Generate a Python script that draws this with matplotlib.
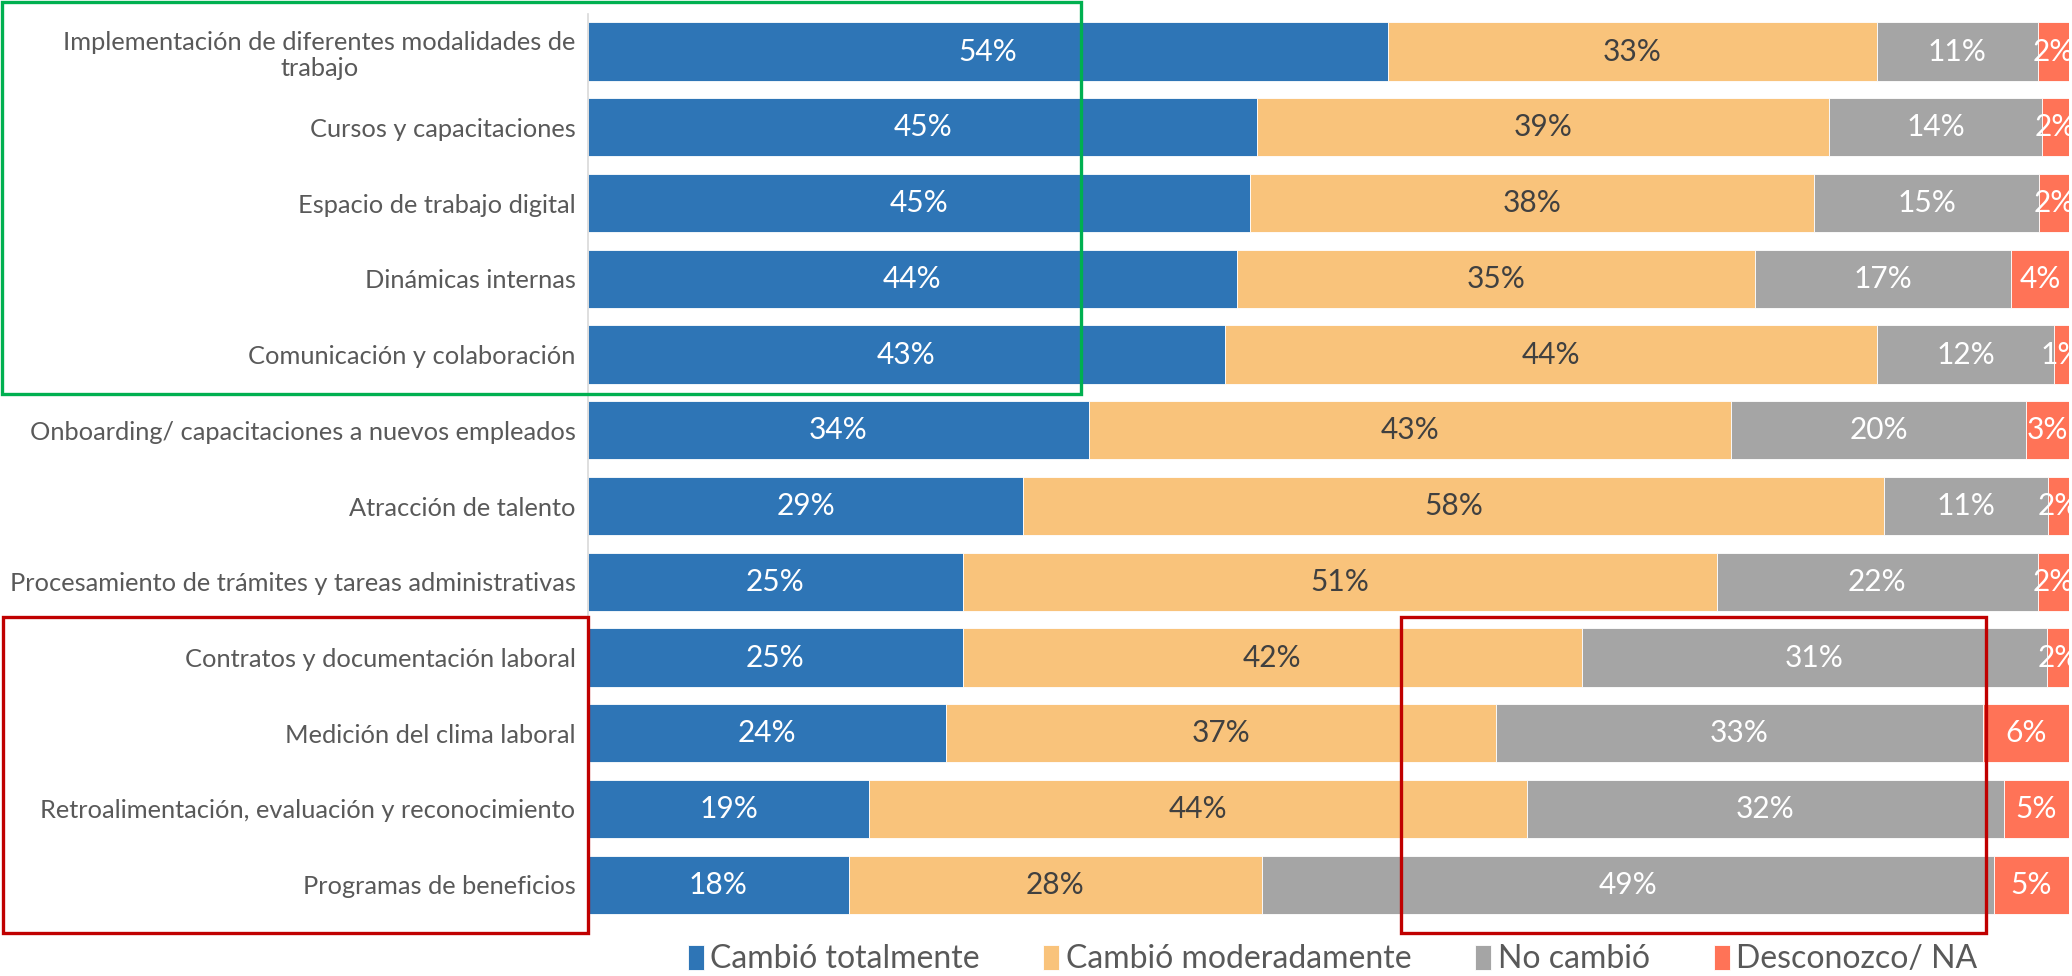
import numpy as np
import matplotlib.pyplot as plt
from matplotlib.patches import Rectangle

plt.rcParams['font.family'] = ['Lato', 'DejaVu Sans']

# Data (percent), top to bottom
categories = [
    "Implementación de diferentes modalidades de\ntrabajo",
    "Cursos y capacitaciones",
    "Espacio de trabajo digital",
    "Dinámicas internas",
    "Comunicación y colaboración",
    "Onboarding/ capacitaciones a nuevos empleados",
    "Atracción de talento",
    "Procesamiento de trámites y tareas administrativas",
    "Contratos y documentación laboral",
    "Medición del clima laboral",
    "Retroalimentación, evaluación y reconocimiento",
    "Programas de beneficios",
]
series_names = ["Cambió totalmente", "Cambió moderadamente", "No cambió", "Desconozco/ NA"]
cambio_total = [54.0, 45.2, 44.7, 43.8, 43.0, 33.8, 29.4, 25.3, 25.3, 24.2, 19.0, 17.6]
cambio_moderado = [33.0, 38.6, 38.1, 35.0, 44.0, 43.4, 58.1, 50.9, 41.8, 37.1, 44.4, 27.9]
no_cambio = [10.9, 14.4, 15.2, 17.3, 12.0, 19.9, 11.1, 21.7, 31.4, 32.9, 32.2, 49.4]
desconozco = [2.1, 1.8, 2.0, 3.9, 1.0, 2.9, 1.6, 2.1, 1.6, 5.9, 4.6, 5.1]

colors = ["#2E75B6", "#F9C37B", "#A5A5A5", "#FF7357"]
text_colors = ["white", "#404040", "white", "white"]

fig = plt.figure(figsize=(20.72, 9.76), dpi=100)
ax = fig.add_axes([0.2838, 0.0547, 0.7148, 0.9313])

y = np.arange(len(categories))
left = np.zeros(len(categories))
for name, vals, c, tc in zip(series_names,
                             [cambio_total, cambio_moderado, no_cambio, desconozco],
                             colors, text_colors):
    vals = np.array(vals)
    bars = ax.barh(y, vals, left=left, height=0.77, color=c, edgecolor='white',
                   linewidth=0.6, label=name)
    # labels on the right edge are cut off by the frame, as in the original
    ax.bar_label(bars, labels=[f"{round(v)}%" for v in vals], label_type='center',
                 color=tc, fontsize=21.5, clip_on=False)
    left += vals

ax.set_xlim(0, 100)
ax.set_ylim(len(categories) - 0.5, -0.5)
ax.set_yticks(y)
ax.set_yticklabels(categories, fontsize=18.3, color="#595959", multialignment='center')
ax.tick_params(axis='y', length=0, pad=9)
ax.set_xticks([])
for s in ['top', 'right', 'bottom']:
    ax.spines[s].set_visible(False)
ax.spines['left'].set_color('#D9D9D9')
ax.spines['left'].set_linewidth(1.2)

fig.legend(loc='center', bbox_to_anchor=(0.643, 0.017), ncol=4, frameon=False,
           fontsize=23, handlelength=0.5, handleheight=0.85, handletextpad=0.2,
           columnspacing=2.0, labelcolor="#595959")

# Highlight boxes
W, H = 2072, 976
def box(x0, y0, x1, y1, color):
    fig.patches.append(Rectangle((x0 / W, 1 - y1 / H), (x1 - x0) / W, (y1 - y0) / H,
                                 transform=fig.transFigure, fill=False,
                                 edgecolor=color, linewidth=2.4, zorder=10))

box(2, 2, 1081, 394, "#00B050")
box(3, 617, 588, 933, "#C00000")
box(1401, 617, 1986, 933, "#C00000")

fig.savefig("out.png", dpi=100)
